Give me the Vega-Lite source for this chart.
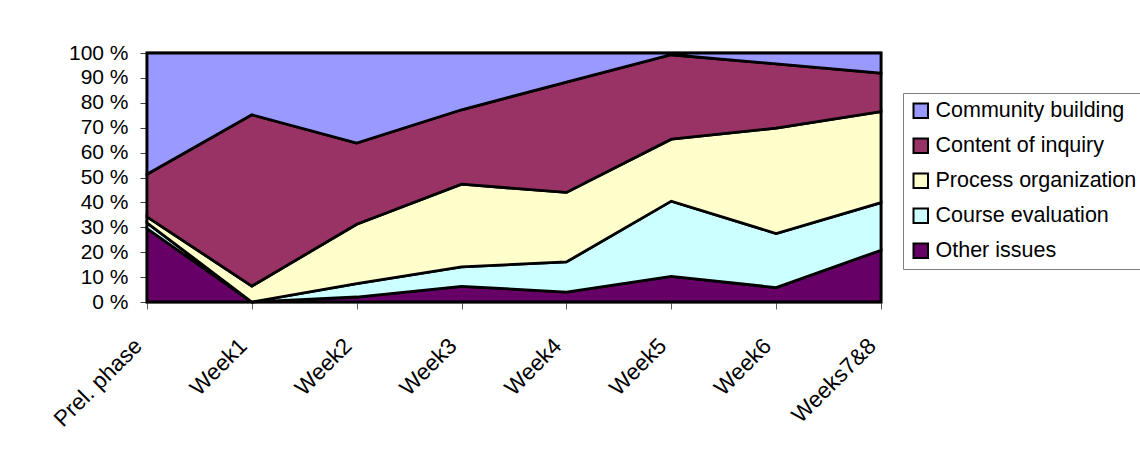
{
  "$schema": "https://vega.github.io/schema/vega-lite/v6.json",
  "width": 734,
  "height": 249,
  "autosize": {"type": "none"},
  "padding": {"left": 147, "top": 53, "right": 259, "bottom": 150},
  "background": "white",
  "config": {
    "view": {"stroke": "black", "strokeWidth": 2.5},
    "font": "Liberation Sans"
  },
  "data": {
    "values": [
      {"period": "Prel. phase", "topic": "Other issues", "rank": 1, "share": 29.5},
      {"period": "Prel. phase", "topic": "Course evaluation", "rank": 2, "share": 2.3},
      {"period": "Prel. phase", "topic": "Process organization", "rank": 3, "share": 2.4},
      {"period": "Prel. phase", "topic": "Content of inquiry", "rank": 4, "share": 17.1},
      {"period": "Prel. phase", "topic": "Community building", "rank": 5, "share": 48.7},
      {"period": "Week1", "topic": "Other issues", "rank": 1, "share": 0},
      {"period": "Week1", "topic": "Course evaluation", "rank": 2, "share": 0},
      {"period": "Week1", "topic": "Process organization", "rank": 3, "share": 6.4},
      {"period": "Week1", "topic": "Content of inquiry", "rank": 4, "share": 68.8},
      {"period": "Week1", "topic": "Community building", "rank": 5, "share": 24.8},
      {"period": "Week2", "topic": "Other issues", "rank": 1, "share": 2.0},
      {"period": "Week2", "topic": "Course evaluation", "rank": 2, "share": 5.4},
      {"period": "Week2", "topic": "Process organization", "rank": 3, "share": 23.8},
      {"period": "Week2", "topic": "Content of inquiry", "rank": 4, "share": 32.6},
      {"period": "Week2", "topic": "Community building", "rank": 5, "share": 36.2},
      {"period": "Week3", "topic": "Other issues", "rank": 1, "share": 6.3},
      {"period": "Week3", "topic": "Course evaluation", "rank": 2, "share": 7.8},
      {"period": "Week3", "topic": "Process organization", "rank": 3, "share": 33.2},
      {"period": "Week3", "topic": "Content of inquiry", "rank": 4, "share": 29.9},
      {"period": "Week3", "topic": "Community building", "rank": 5, "share": 22.8},
      {"period": "Week4", "topic": "Other issues", "rank": 1, "share": 4.0},
      {"period": "Week4", "topic": "Course evaluation", "rank": 2, "share": 12.1},
      {"period": "Week4", "topic": "Process organization", "rank": 3, "share": 27.9},
      {"period": "Week4", "topic": "Content of inquiry", "rank": 4, "share": 44.3},
      {"period": "Week4", "topic": "Community building", "rank": 5, "share": 11.7},
      {"period": "Week5", "topic": "Other issues", "rank": 1, "share": 10.3},
      {"period": "Week5", "topic": "Course evaluation", "rank": 2, "share": 30.2},
      {"period": "Week5", "topic": "Process organization", "rank": 3, "share": 24.9},
      {"period": "Week5", "topic": "Content of inquiry", "rank": 4, "share": 33.9},
      {"period": "Week5", "topic": "Community building", "rank": 5, "share": 0.7},
      {"period": "Week6", "topic": "Other issues", "rank": 1, "share": 5.8},
      {"period": "Week6", "topic": "Course evaluation", "rank": 2, "share": 21.7},
      {"period": "Week6", "topic": "Process organization", "rank": 3, "share": 42.3},
      {"period": "Week6", "topic": "Content of inquiry", "rank": 4, "share": 25.8},
      {"period": "Week6", "topic": "Community building", "rank": 5, "share": 4.4},
      {"period": "Weeks7&8", "topic": "Other issues", "rank": 1, "share": 20.8},
      {"period": "Weeks7&8", "topic": "Course evaluation", "rank": 2, "share": 19.1},
      {"period": "Weeks7&8", "topic": "Process organization", "rank": 3, "share": 36.6},
      {"period": "Weeks7&8", "topic": "Content of inquiry", "rank": 4, "share": 15.4},
      {"period": "Weeks7&8", "topic": "Community building", "rank": 5, "share": 8.1}
    ]
  },
  "mark": {"type": "area", "stroke": "black", "strokeWidth": 2.8, "opacity": 1, "strokeJoin": "miter"},
  "encoding": {
    "x": {
      "field": "period",
      "type": "ordinal",
      "sort": ["Prel. phase", "Week1", "Week2", "Week3", "Week4", "Week5", "Week6", "Weeks7&8"],
      "scale": {"type": "point", "padding": 0},
      "axis": {
        "title": null,
        "domain": false,
        "grid": false,
        "ticks": true,
        "tickColor": "#606060",
        "tickSize": 7,
        "labelAngle": -45,
        "labelAlign": "right",
        "labelBaseline": "middle",
        "labelPadding": 33,
        "labelOffset": -9,
        "labelFontSize": 22.5,
        "labelColor": "black",
        "labelFont": "Liberation Sans"
      }
    },
    "y": {
      "field": "share",
      "type": "quantitative",
      "stack": "normalize",
      "scale": {"domain": [0, 1]},
      "axis": {
        "title": null,
        "domain": false,
        "grid": false,
        "values": [0, 0.1, 0.2, 0.3, 0.4, 0.5, 0.6, 0.7, 0.8, 0.9, 1],
        "labelExpr": "format(datum.value * 100, 'd') + ' %'",
        "tickColor": "#404040",
        "tickSize": 7,
        "labelPadding": 12,
        "labelFontSize": 21,
        "labelColor": "black",
        "labelFont": "Liberation Sans"
      }
    },
    "color": {
      "field": "topic",
      "type": "nominal",
      "scale": {
        "domain": ["Community building", "Content of inquiry", "Process organization", "Course evaluation", "Other issues"],
        "range": ["#9999FF", "#993366", "#FFFFCC", "#CCFFFF", "#660066"]
      },
      "legend": {
        "title": null,
        "orient": "none",
        "legendX": 756,
        "legendY": 40,
        "padding": 7,
        "strokeColor": "#808080",
        "fillColor": "white",
        "symbolType": "square",
        "symbolSize": 210,
        "symbolStrokeColor": "black",
        "symbolStrokeWidth": 2,
        "symbolOpacity": 1,
        "labelFontSize": 21.5,
        "labelFont": "Liberation Sans",
        "labelColor": "black",
        "labelOffset": 4,
        "rowPadding": 12,
        "labelLimit": 400
      }
    },
    "order": {"field": "rank", "type": "quantitative"}
  }
}
